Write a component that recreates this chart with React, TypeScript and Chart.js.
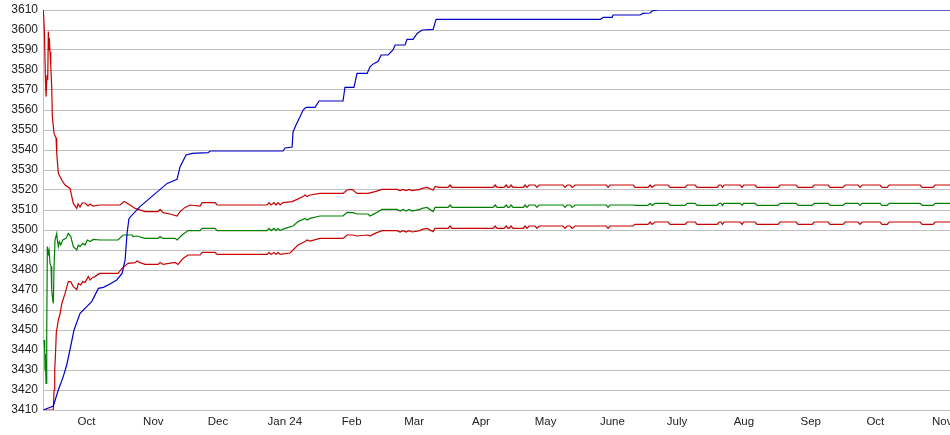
import React, { useEffect, useRef } from 'react';
import { Chart, registerables } from 'chart.js';

Chart.register(...registerables);

// x values are days counted from 1 Oct 2023
const monthTickDays = [0, 31, 61, 92, 123, 152, 183, 213, 244, 274, 305, 336, 366, 397];
const monthTickLabels = ['Oct', 'Nov', 'Dec', 'Jan 24', 'Feb', 'Mar', 'Apr', 'May', 'June', 'July', 'Aug', 'Sep', 'Oct', 'Nov'];
const yMin = 3410;
const yMax = 3610;
const yStep = 10;
const xMin = -20.2;
const xMax = 419.2;

const blueDays = [-20.1, -15.4, -13.1, -10.8, -9.2, -7.7, -5.8, -3.0, 0.1, 2.4, 5.5, 7.8, 10.9, 14.0, 16.5, 17.9, 18.8, 19.7, 24.8, 37.4, 42.0, 43.4, 46.2, 49.0, 56.4, 57.3, 91.2, 92.1, 95.4, 95.8, 97.2, 99.1, 100.5, 101.9, 106.0, 107.9, 119.0, 119.9, 124.1, 125.5, 130.2, 131.6, 133.4, 135.3, 136.7, 139.9, 142.2, 143.2, 147.8, 148.7, 151.5, 153.4, 155.7, 160.8, 162.2, 238.3, 239.7, 243.9, 244.3, 256.8, 258.2, 261.5, 262.4, 265.2, 403.0];
const blueValues = [3410, 3412, 3420, 3426.7, 3432.5, 3440, 3450, 3458.3, 3461.7, 3464.2, 3470.8, 3471.3, 3473, 3475, 3478.3, 3485, 3498.3, 3505.8, 3511.7, 3523.3, 3525.3, 3531.7, 3537.5, 3538.3, 3538.7, 3539.5, 3539.5, 3541, 3541.5, 3549, 3552.5, 3556.7, 3560, 3561.3, 3561.3, 3564.5, 3564.5, 3571.3, 3571.3, 3578.3, 3578.3, 3581.7, 3583.3, 3584.2, 3587.5, 3587.5, 3590, 3592.5, 3592.5, 3595.3, 3595.3, 3598.3, 3600, 3600.3, 3605.3, 3605.3, 3606.3, 3606.3, 3607.5, 3607.5, 3608.3, 3608.5, 3609.5, 3610, 3610];

const upperEarlyDays = [-20.05, -19.58, -19.12, -18.79, -18.33, -18.0, -17.73, -17.4, -17.26, -16.94, -16.61, -16.15, -15.87, -15.08, -14.15, -13.83, -13.09, -11.51, -9.98, -7.66, -6.13, -4.55, -3.94, -3.02, -2.09, -0.70, 0.70, 1.62, 3.02, 6.26, 15.55, 17.40, 20.19, 22.51, 27.15, 33.18, 34.11, 35.50, 38.75, 42.0, 43.39, 45.71, 48.03, 52.67, 53.60, 59.63, 60.56, 83.76, 84.69, 85.61, 87.0, 87.93, 88.86, 89.79, 91.18, 95.36, 97.68, 100.46, 101.39, 102.32, 103.71, 108.35, 119.03, 120.88, 123.2, 125.52, 130.63, 133.87, 137.12, 144.08, 145.48, 146.87, 148.26, 149.65, 151.04, 154.76, 155.68, 158.0, 160.79, 161.72];
const upperEarlyValues = [3610, 3600, 3577.5, 3566.7, 3577.5, 3575, 3599.2, 3590, 3596, 3589, 3582.5, 3571, 3556.7, 3548.3, 3546, 3538.3, 3528.3, 3525, 3522.5, 3520.8, 3513.3, 3510.8, 3513, 3511.5, 3513.5, 3513.5, 3512, 3513, 3512, 3512.5, 3512.5, 3514.2, 3512.5, 3510.8, 3509.2, 3509.2, 3510.3, 3508.7, 3508, 3507, 3509.2, 3511.3, 3512.5, 3512, 3513.7, 3513.7, 3512.5, 3512.5, 3513.7, 3512.5, 3513.7, 3512.5, 3513.7, 3512.5, 3513.7, 3514.2, 3515.3, 3516.7, 3517.5, 3516.7, 3517.5, 3518.3, 3518.3, 3520, 3520.3, 3518.3, 3518.3, 3519.2, 3520.3, 3520.3, 3519.7, 3520.3, 3519.7, 3520.3, 3519.7, 3520.3, 3520.8, 3521.3, 3520, 3521.7];

const greenEarlyDays = [-19.72, -19.40, -19.26, -19.12, -18.79, -18.47, -18.19, -17.73, -17.4, -16.94, -16.47, -16.15, -15.68, -15.41, -15.08, -14.62, -13.83, -13.55, -13.09, -12.62, -11.97, -11.04, -9.51, -8.45, -7.33, -6.13, -4.55, -3.81, -3.02, -1.76, -0.70, 0.37, 1.62, 3.16, 6.26, 14.62, 16.94, 21.11, 21.58, 23.43, 27.15, 33.18, 34.11, 35.50, 41.07, 42.0, 44.32, 47.10, 52.67, 53.60, 59.63, 60.56, 83.76, 84.69, 85.61, 87.0, 87.93, 88.86, 89.79, 92.11, 95.82, 98.14, 101.39, 102.32, 103.71, 108.35, 119.03, 120.88, 123.67, 125.52, 130.63, 131.55, 133.87, 137.12, 144.08, 145.48, 146.87, 148.26, 149.65, 151.04, 154.76, 155.68, 158.0, 160.79, 161.72];
const greenEarlyValues = [3445, 3440, 3430, 3438, 3423.3, 3448.3, 3491.7, 3488.3, 3490, 3483.3, 3481.7, 3470, 3465, 3463.3, 3481.7, 3495, 3498.3, 3495, 3491.7, 3494.2, 3492.5, 3495, 3495.8, 3498.3, 3496.7, 3491.7, 3490, 3492.5, 3491.7, 3493.3, 3492.5, 3495, 3494.2, 3495.3, 3495, 3495, 3497.5, 3497.5, 3496.7, 3497, 3495.8, 3495.8, 3496.7, 3495.8, 3495.8, 3495, 3497.5, 3499.7, 3499.7, 3500.8, 3500.8, 3499.7, 3499.7, 3500.8, 3499.7, 3500.8, 3499.7, 3500.8, 3499.7, 3500.8, 3502, 3504.2, 3505.8, 3505, 3505.8, 3507, 3507, 3508.8, 3508.7, 3508, 3508, 3507, 3508.3, 3510.3, 3510.3, 3509.5, 3510.3, 3509.5, 3510.3, 3509.5, 3510.3, 3510.8, 3511.3, 3509.2, 3511.3];

const lowerEarlyDays = [-19.72, -15.41, -15.08, -14.76, -14.48, -14.01, -13.55, -13.09, -12.30, -11.51, -9.98, -8.45, -7.33, -6.13, -4.55, -3.81, -2.69, -1.76, -0.70, 0.09, 0.84, 1.62, 2.88, 3.94, 5.94, 14.62, 16.47, 19.26, 22.51, 23.43, 24.83, 27.15, 33.18, 34.11, 35.50, 41.07, 42.46, 44.78, 47.10, 52.67, 53.60, 59.63, 60.56, 83.76, 84.69, 85.61, 87.0, 87.93, 88.86, 89.79, 94.43, 98.14, 101.39, 102.32, 103.71, 108.35, 119.03, 120.88, 123.67, 125.52, 130.63, 131.55, 133.87, 137.12, 144.08, 145.48, 146.87, 148.26, 149.65, 151.04, 154.76, 155.68, 158.0, 160.79, 161.72];
const lowerEarlyValues = [3410, 3410, 3420, 3430, 3436, 3449, 3451.7, 3455, 3458, 3463, 3468.3, 3474.2, 3474.2, 3471.7, 3470.2, 3473.3, 3472.5, 3474.2, 3473.7, 3475.3, 3476.7, 3475, 3476.3, 3476.7, 3478.3, 3478.3, 3480.8, 3483.3, 3483.7, 3484.5, 3483.7, 3482.8, 3482.8, 3483.8, 3482.8, 3483.8, 3482.8, 3485.8, 3487.5, 3487.5, 3488.8, 3488.8, 3487.8, 3487.8, 3488.8, 3487.8, 3488.8, 3487.8, 3488.8, 3487.8, 3488.5, 3492.5, 3494.2, 3495, 3494.5, 3495.8, 3495.8, 3497.5, 3497.5, 3497, 3497.5, 3497, 3498.3, 3499.7, 3499.7, 3499, 3499.7, 3499, 3499.7, 3499, 3499.7, 3500.3, 3500.8, 3499.2, 3500.8];

const lateDays = [164.0, 167.7, 168.7, 169.6, 188.6, 189.6, 190.5, 193.7, 194.7, 195.6, 196.1, 197.0, 197.9, 202.6, 203.5, 204.4, 205.3, 208.1, 209.0, 210.0, 221.1, 222.0, 223.0, 224.4, 225.3, 226.7, 241.1, 242.0, 242.9, 253.6, 254.5, 260.5, 261.5, 262.4, 263.8, 269.8, 270.8, 277.7, 278.7, 282.4, 283.3, 292.6, 293.5, 294.4, 295.1, 295.8, 303.3, 304.2, 304.9, 310.2, 311.1, 320.9, 321.8, 329.2, 330.2, 336.7, 337.6, 344.1, 345.0, 351.0, 352.0, 358.0, 358.9, 359.9, 368.2, 369.1, 371.5, 372.4, 386.8, 387.7, 392.8, 393.7, 403.0];
const upperLateValues = [3521.3, 3521.3, 3522.5, 3521.3, 3521.3, 3522.5, 3521.3, 3521.3, 3522.5, 3521.3, 3521.3, 3522.5, 3521.3, 3521.3, 3522.5, 3521.3, 3522.5, 3522.5, 3521.3, 3522.5, 3522.5, 3521.3, 3522.5, 3522.5, 3521.3, 3522.5, 3522.5, 3521.3, 3522.5, 3522.5, 3521.3, 3521.3, 3522.5, 3521.3, 3522.5, 3522.5, 3521.3, 3521.3, 3522.5, 3522.5, 3521.3, 3521.3, 3522.5, 3522.5, 3521.3, 3522.5, 3522.5, 3521.3, 3522.5, 3522.5, 3521.3, 3521.3, 3522.5, 3522.5, 3521.3, 3521.3, 3522.5, 3522.5, 3521.3, 3521.3, 3522.5, 3522.5, 3521.3, 3522.5, 3522.5, 3521.3, 3521.3, 3522.5, 3522.5, 3521.3, 3521.3, 3522.5, 3522.5];
const greenLateValues = [3511.3, 3511.3, 3512.5, 3511.3, 3511.3, 3512.5, 3511.3, 3511.3, 3512.5, 3511.3, 3511.3, 3512.5, 3511.3, 3511.3, 3512.5, 3511.3, 3512.5, 3512.5, 3511.3, 3512.5, 3512.5, 3511.3, 3512.5, 3512.5, 3511.3, 3512.5, 3512.5, 3511.3, 3512.5, 3512.5, 3512.3, 3512.3, 3513.3, 3512.3, 3513.3, 3513.3, 3512.3, 3512.3, 3513.3, 3513.3, 3512.3, 3512.3, 3513.3, 3513.3, 3512.3, 3513.3, 3513.3, 3512.3, 3513.3, 3513.3, 3512.3, 3512.3, 3513.3, 3513.3, 3512.3, 3512.3, 3513.3, 3513.3, 3512.3, 3512.3, 3513.3, 3513.3, 3512.3, 3513.3, 3513.3, 3512.3, 3512.3, 3513.3, 3513.3, 3512.3, 3512.3, 3513.3, 3513.3];
const lowerLateValues = [3500.8, 3500.8, 3502, 3500.8, 3500.8, 3502, 3500.8, 3500.8, 3502, 3500.8, 3500.8, 3502, 3500.8, 3500.8, 3502, 3500.8, 3502, 3502, 3500.8, 3502, 3502, 3500.8, 3502, 3502, 3500.8, 3502, 3502, 3500.8, 3502, 3502, 3502.8, 3502.8, 3504, 3502.8, 3504, 3504, 3502.8, 3502.8, 3504, 3504, 3502.8, 3502.8, 3504, 3504, 3502.8, 3504, 3504, 3502.8, 3504, 3504, 3502.8, 3502.8, 3504, 3504, 3502.8, 3502.8, 3504, 3504, 3502.8, 3502.8, 3504, 3504, 3502.8, 3504, 3504, 3502.8, 3502.8, 3504, 3504, 3502.8, 3502.8, 3504, 3504];

const zip = (xs: number[], ys: number[]) => xs.map((x, i) => ({ x, y: ys[i] }));

const seriesColors = { blue: '#0000c8', red: '#c80000', green: '#008000' };

export default function App() {
  const ref = useRef<HTMLCanvasElement | null>(null);
  useEffect(() => {
    if (!ref.current) return;
    const line = (data: { x: number; y: number }[], color: string) => ({
      data,
      borderColor: color,
      backgroundColor: color,
      borderWidth: 1.2,
      pointRadius: 0,
      tension: 0,
      fill: false,
    });
    const chart = new Chart(ref.current, {
      type: 'line',
      data: {
        datasets: [
          line(zip(blueDays, blueValues), seriesColors.blue),
          line(zip([...upperEarlyDays, ...lateDays], [...upperEarlyValues, ...upperLateValues]), seriesColors.red),
          line(zip([...greenEarlyDays, ...lateDays], [...greenEarlyValues, ...greenLateValues]), seriesColors.green),
          line(zip([...lowerEarlyDays, ...lateDays], [...lowerEarlyValues, ...lowerLateValues]), seriesColors.red),
        ] as any,
      },
      options: {
        animation: false,
        responsive: false,
        maintainAspectRatio: false,
        layout: { padding: { top: 10, left: 0, right: 0, bottom: 0 } },
        plugins: { legend: { display: false }, tooltip: { enabled: false }, title: { display: false } },
        scales: {
          x: {
            type: 'linear',
            min: xMin,
            max: xMax,
            grid: { display: false, drawTicks: false },
            border: { display: false },
            afterBuildTicks: (scale: any) => {
              scale.ticks = monthTickDays.map((v) => ({ value: v }));
            },
            afterFit: (scale: any) => {
              scale.height = 25;
              scale.paddingLeft = 0;
              scale.paddingRight = 0;
            },
            ticks: {
              autoSkip: false,
              maxRotation: 0,
              padding: 5,
              color: '#222',
              font: { family: 'Arial, "Liberation Sans", sans-serif', size: 11.5 },
              callback: (_v: any, i: number) => monthTickLabels[i],
            },
          },
          y: {
            type: 'linear',
            min: yMin,
            max: yMax,
            grid: { color: '#c0c0c0', lineWidth: 1, drawTicks: false },
            border: { display: true, color: '#c0c0c0' },
            afterFit: (scale: any) => {
              scale.width = 43;
              scale.paddingTop = 0;
              scale.paddingBottom = 0;
            },
            ticks: {
              stepSize: yStep,
              padding: 5,
              color: '#222',
              font: { family: 'Arial, "Liberation Sans", sans-serif', size: 12 },
              callback: (v: any) => String(v),
            },
          },
        },
      } as any,
    });
    return () => chart.destroy();
  }, []);
  return (
    <div style={{ position: 'fixed', left: 0, top: 0, width: 950, height: 435, overflow: 'hidden', background: '#fff' }}>
      <canvas ref={ref} width={990} height={435} style={{ display: 'block', width: 990, height: 435 }} />
    </div>
  );
}
